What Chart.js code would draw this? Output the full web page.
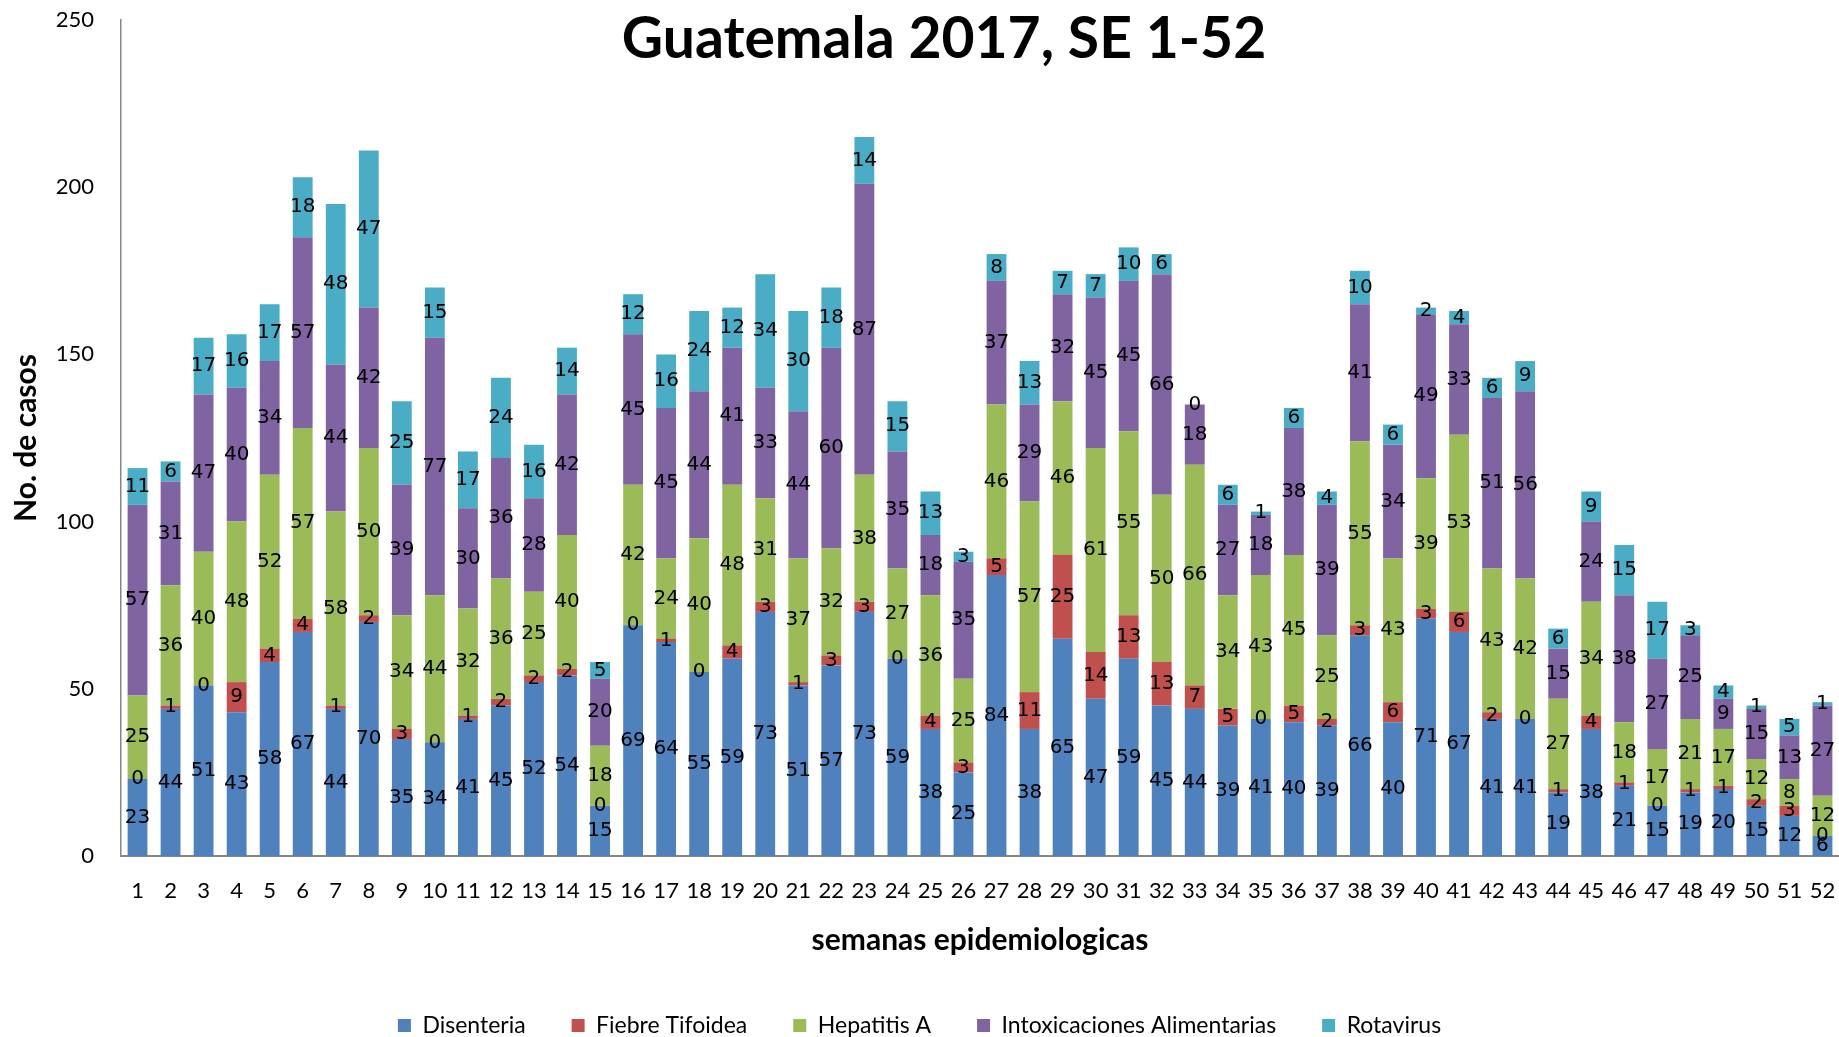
<!DOCTYPE html>
<html>
<head>
<meta charset="utf-8">
<script src="https://cdn.jsdelivr.net/npm/chart.js@4"></script>
<style>
    body { margin: 0; background: #fff; }
    #wrap { width: 1839px; height: 1037px; }
</style>
</head>
<body>
<div id="wrap"><canvas id="chart"></canvas></div>
<script>
const semanas = ['1','2','3','4','5','6','7','8','9','10','11','12','13','14','15','16','17','18','19','20','21','22','23','24','25','26','27','28','29','30','31','32','33','34','35','36','37','38','39','40','41','42','43','44','45','46','47','48','49','50','51','52'];

const disenteria = [23,44,51,43,58,67,44,70,35,34,41,45,52,54,15,69,64,55,59,73,51,57,73,59,38,25,84,38,65,47,59,45,44,39,41,40,39,66,40,71,67,41,41,19,38,21,15,19,20,15,12,6];
const fiebreTifoidea = [0,1,0,9,4,4,1,2,3,0,1,2,2,2,0,0,1,0,4,3,1,3,3,0,4,3,5,11,25,14,13,13,7,5,0,5,2,3,6,3,6,2,0,1,4,1,0,1,1,2,3,0];
const hepatitisA = [25,36,40,48,52,57,58,50,34,44,32,36,25,40,18,42,24,40,48,31,37,32,38,27,36,25,46,57,46,61,55,50,66,34,43,45,25,55,43,39,53,43,42,27,34,18,17,21,17,12,8,12];
const intoxicaciones = [57,31,47,40,34,57,44,42,39,77,30,36,28,42,20,45,45,44,41,33,44,60,87,35,18,35,37,29,32,45,45,66,18,27,18,38,39,41,34,49,33,51,56,15,24,38,27,25,9,15,13,27];
const rotavirus = [11,6,17,16,17,18,48,47,25,15,17,24,16,14,5,12,16,24,12,34,30,18,14,15,13,3,8,13,7,7,10,6,0,6,1,6,4,10,6,2,4,6,9,6,9,15,17,3,4,1,5,1];

const yTicks = [0, 50, 100, 150, 200, 250];

// etiquetas de valor en el centro de cada segmento
const valueLabels = {
    id: 'valueLabels',
    afterDatasetsDraw(chart) {
        const ctx = chart.ctx;
        ctx.save();
        ctx.font = '20px "DejaVu Sans"';
        ctx.fillStyle = '#000';
        ctx.textAlign = 'center';
        ctx.textBaseline = 'middle';
        chart.data.datasets.forEach((ds, i) => {
            const meta = chart.getDatasetMeta(i);
            meta.data.forEach((bar, j) => {
                const p = bar.getCenterPoint();
                ctx.fillText(String(ds.data[j]), p.x, p.y);
            });
        });
        ctx.restore();
    }
};

// titulo encima del area del grafico, como en el original
const overlayTitle = {
    id: 'overlayTitle',
    afterLayout(chart) {
        // bajar un poco la leyenda
        chart.legend.top += 10;
        chart.legend.bottom += 10;
    },
    afterDraw(chart) {
        const ctx = chart.ctx;
        ctx.save();
        ctx.font = 'bold 57px Lato';
        ctx.fillStyle = '#000';
        ctx.textAlign = 'center';
        ctx.textBaseline = 'middle';
        ctx.fillText('Guatemala 2017, SE 1-52', 944, 40);
        ctx.restore();
    }
};

function serie(label, data, color) {
    return {
        label: label,
        data: data,
        backgroundColor: color,
        borderWidth: 0,
        barPercentage: 0.6,
        categoryPercentage: 1.0
    };
}

new Chart(document.getElementById('chart'), {
    type: 'bar',
    data: {
        labels: semanas,
        datasets: [
            serie('Disenteria', disenteria, '#4F81BD'),
            serie('Fiebre Tifoidea', fiebreTifoidea, '#C0504D'),
            serie('Hepatitis A', hepatitisA, '#9BBB59'),
            serie('Intoxicaciones Alimentarias', intoxicaciones, '#8064A2'),
            serie('Rotavirus', rotavirus, '#4BACC6')
        ]
    },
    options: {
        responsive: true,
        maintainAspectRatio: false,
        animation: false,
        layout: {
            padding: { top: 20, right: 0, left: 0, bottom: 0 }
        },
        scales: {
            x: {
                stacked: true,
                grid: { display: false, drawTicks: false },
                border: { color: '#868686', width: 2 },
                ticks: {
                    color: '#000',
                    padding: 22,
                    maxRotation: 0,
                    autoSkip: false,
                    font: { family: 'Lato', size: 22 }
                },
                title: {
                    display: true,
                    text: 'semanas epidemiologicas',
                    color: '#000',
                    padding: { top: 10, bottom: 0 },
                    font: { family: 'Lato', size: 30, weight: 'bold' }
                },
                afterFit: function(scale) {
                    scale.height = 102;
                    scale.paddingLeft = 0;
                    scale.paddingRight = 0;
                }
            },
            y: {
                stacked: true,
                min: 0,
                max: 250,
                afterBuildTicks: function(scale) {
                    scale.ticks = yTicks.map(v => ({ value: v }));
                },
                grid: { display: false, drawTicks: false },
                border: { color: '#868686', width: 1.5 },
                ticks: {
                    color: '#000',
                    padding: 27,
                    font: { family: 'Lato', size: 22 }
                },
                title: {
                    display: true,
                    text: 'No. de casos',
                    color: '#000',
                    padding: { top: 8, bottom: 0 },
                    font: { family: 'Lato', size: 30, weight: 'bold' }
                },
                afterFit: function(scale) {
                    scale.width = 121;
                    scale.paddingTop = 0;
                    scale.paddingBottom = 0;
                }
            }
        },
        plugins: {
            legend: {
                position: 'bottom',
                labels: {
                    boxWidth: 13,
                    boxHeight: 13,
                    padding: 46,
                    color: '#000',
                    font: { family: 'Lato', size: 23 }
                }
            },
            tooltip: { enabled: false }
        }
    },
    plugins: [valueLabels, overlayTitle]
});
</script>
</body>
</html>
